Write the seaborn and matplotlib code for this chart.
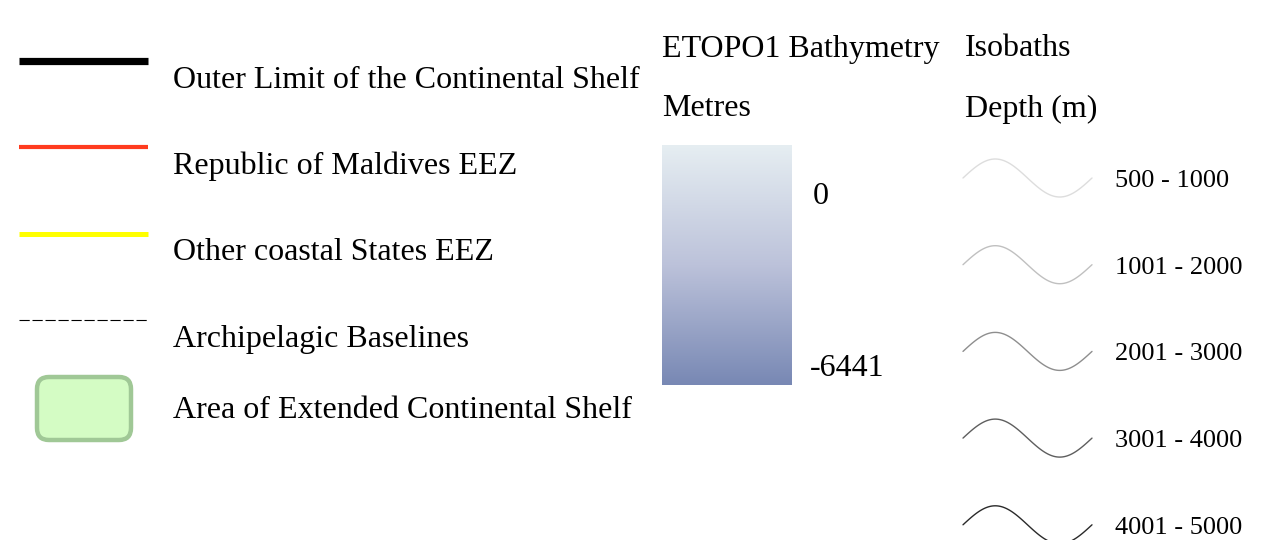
import numpy as np
import pandas as pd
import matplotlib
matplotlib.use("Agg")
import matplotlib.pyplot as plt
from matplotlib.colors import LinearSegmentedColormap
from matplotlib.patches import FancyBboxPatch
import seaborn as sns

# legend content
line_labels = ["Outer Limit of the Continental Shelf", "Republic of Maldives EEZ",
               "Other coastal States EEZ", "Archipelagic Baselines"]
line_colors = ["#000000", "#ff3b1e", "#ffff00", "#000000"]
area_label = "Area of Extended Continental Shelf"

bathy_title = "ETOPO1 Bathymetry"
bathy_unit = "Metres"
bathy_range = [0, -6441]
bathy_colors = ["#7888b4", "#bcc2da", "#e6eef2"]  # deep -> shallow

iso_title = "Isobaths"
iso_unit = "Depth (m)"
iso_labels = ["500 - 1000", "1001 - 2000", "2001 - 3000", "3001 - 4000", "4001 - 5000"]
iso_colors = ["#dddddd", "#c0c0c0", "#8e8e8e", "#5e5e5e", "#2a2a2a"]

sns.set_style("white")
plt.rcParams["font.family"] = ["Liberation Serif", "DejaVu Serif"]
plt.rcParams["text.color"] = "black"

fig = plt.figure(figsize=(12.73, 5.40), dpi=100)
ax = fig.add_axes([0, 0, 1, 1])

fs = 23

# left column: line symbols
line_y = [61, 147, 234, 320]
widths = [5.2, 3.0, 3.6, 0.8]
for i, (lab, col) in enumerate(zip(line_labels, line_colors)):
    ls = (0, (9.2, 2.5)) if i == 3 else "-"
    ax.plot([19, 148], [line_y[i], line_y[i]], color=col, lw=widths[i], ls=ls,
            solid_capstyle="butt", dash_capstyle="butt")
    ax.text(173, line_y[i] + 19, lab, fontsize=fs, va="center", ha="left")

box = FancyBboxPatch((37, 377), 94, 63, boxstyle="round,pad=0,rounding_size=12",
                     facecolor="#d4fcc4", edgecolor="#a0c896", lw=3.2)
ax.add_patch(box)
ax.text(173, 410, area_label, fontsize=fs, va="center", ha="left")

# bathymetry colour ramp
ax.text(662, 49, bathy_title, fontsize=fs, va="center", ha="left")
ax.text(662, 109, bathy_unit, fontsize=fs, va="center", ha="left")
cmap = LinearSegmentedColormap.from_list("bathy", bathy_colors)
ramp = np.linspace(bathy_range[0], bathy_range[1], 256).reshape(-1, 1)
ax.imshow(ramp, cmap=cmap, aspect="auto", extent=(662, 792, 385, 145),
          vmin=bathy_range[1], vmax=bathy_range[0], interpolation="bilinear")
ax.text(813, 196, str(bathy_range[0]), fontsize=fs, va="center", ha="left")
ax.text(810, 369, str(bathy_range[1]), fontsize=fs, va="center", ha="left")

# isobath symbols
ax.text(965, 49, iso_title, fontsize=fs, va="center", ha="left")
ax.text(965, 109, iso_unit, fontsize=fs, va="center", ha="left")
t = np.linspace(0, 2 * np.pi, 100)
for i, (lab, col) in enumerate(zip(iso_labels, iso_colors)):
    yc = 178 + i * 86.7
    wave = pd.DataFrame({"x": 963 + t / (2 * np.pi) * 129, "y": yc - 19 * np.sin(t)})
    sns.lineplot(data=wave, x="x", y="y", ax=ax, color=col, lw=1.0, sort=False)
    ax.text(1115, yc + 3, lab, fontsize=19, va="center", ha="left")

ax.set_xlim(0, 1273)
ax.set_ylim(540, 0)
ax.axis("off")
fig.savefig("out.png", dpi=100)
